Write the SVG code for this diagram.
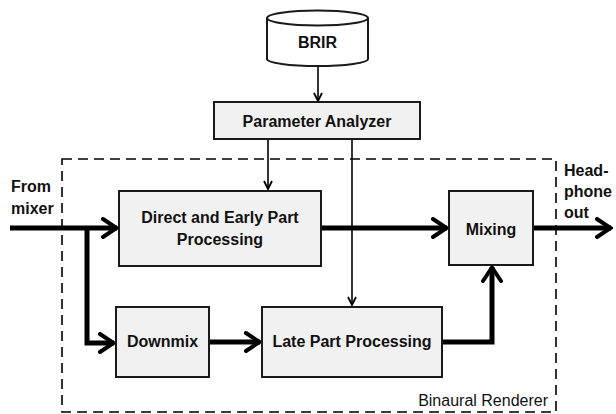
<svg xmlns="http://www.w3.org/2000/svg" width="616" height="414" viewBox="0 0 616 414">
<defs>
<style>
.box{fill:#f1f1f1;stroke:#1a1a1a;stroke-width:2}
.lbl{font-family:"Liberation Sans",Arial,sans-serif;font-weight:bold;font-size:16px;fill:#111;text-anchor:middle}
.side{font-family:"Liberation Sans",Arial,sans-serif;font-weight:bold;font-size:16px;fill:#111}
.thick{fill:none;stroke:#000;stroke-width:5;stroke-linejoin:miter}
.thin{fill:none;stroke:#000;stroke-width:1.6}
</style>
<marker id="big" viewBox="0 0 18 22" refX="16" refY="11" markerWidth="18" markerHeight="22" markerUnits="userSpaceOnUse" orient="auto">
<path d="M2,2 L15.5,11 L2,20" fill="none" stroke="#000" stroke-width="4" stroke-linecap="round" stroke-linejoin="miter"/>
</marker>
<marker id="small" viewBox="0 0 10 10" refX="9" refY="5" markerWidth="10" markerHeight="10" markerUnits="userSpaceOnUse" orient="auto">
<path d="M1,1 L9,5 L1,9" fill="none" stroke="#000" stroke-width="1.8"/>
</marker>
</defs>
<rect width="616" height="414" fill="#fff"/>

<g id="renderer">
<rect x="62" y="159" width="494" height="253" fill="none" stroke="#000" stroke-width="1.6" stroke-dasharray="10,6"/>
<text x="548" y="406" font-family="'Liberation Sans',Arial,sans-serif" font-size="16" fill="#111" text-anchor="end">Binaural Renderer</text>
</g>

<g id="connectors">
<path class="thin" d="M318,66 V101" marker-end="url(#small)"/>
<path class="thin" d="M268,139 V189" marker-end="url(#small)"/>
<path class="thin" d="M352,139 V305" marker-end="url(#small)"/>
<path class="thick" d="M10,228 H117" marker-end="url(#big)"/>
<path class="thick" d="M87,228 V343 H114" marker-end="url(#big)"/>
<path class="thick" d="M321,228 H447" marker-end="url(#big)"/>
<path class="thick" d="M209,342 H260" marker-end="url(#big)"/>
<path class="thick" d="M442,342 H492 V267" marker-end="url(#big)"/>
<path class="thick" d="M533,228 H611" marker-end="url(#big)"/>
</g>

<g id="brir">
<path d="M267,18 V59 A50.5,7 0 0 0 368,59 V18" fill="#fff" stroke="#1a1a1a" stroke-width="2"/>
<ellipse cx="317.5" cy="18" rx="50.5" ry="7.5" fill="#fff" stroke="#1a1a1a" stroke-width="2"/>
<text class="lbl" x="317.5" y="48">BRIR</text>
</g>

<g id="param">
<rect class="box" x="214" y="102" width="206" height="37"/>
<text class="lbl" x="317" y="127">Parameter Analyzer</text>
</g>

<g id="direct">
<rect class="box" x="119" y="191" width="202" height="75"/>
<text class="lbl" x="220" y="223">Direct and Early Part</text>
<text class="lbl" x="220" y="245">Processing</text>
</g>

<g id="mixing">
<rect class="box" x="449" y="191" width="84" height="74"/>
<text class="lbl" x="491" y="235">Mixing</text>
</g>

<g id="downmix">
<rect class="box" x="116" y="307" width="93" height="70"/>
<text class="lbl" x="162.5" y="347">Downmix</text>
</g>

<g id="late">
<rect class="box" x="262" y="307" width="180" height="70"/>
<text class="lbl" x="352" y="347">Late Part Processing</text>
</g>

<g id="labels">
<text class="side" x="11" y="192">From</text>
<text class="side" x="11" y="214">mixer</text>
<text class="side" x="564" y="176">Head-</text>
<text class="side" x="564" y="197">phone</text>
<text class="side" x="564" y="218">out</text>
</g>
</svg>
